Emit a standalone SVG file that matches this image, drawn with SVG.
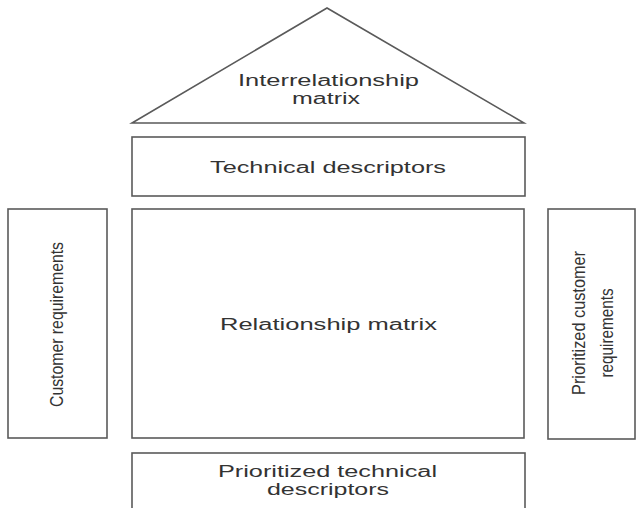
<svg xmlns="http://www.w3.org/2000/svg" width="637" height="508" viewBox="0 0 637 508">
  <style>
    .box { fill: #ffffff; stroke: #5a5a5a; stroke-width: 1.6; }
    .lbl { font-family: "Liberation Sans", Arial, sans-serif; font-size: 16px; fill: #333333; text-anchor: middle; }
    .vlbl { font-family: "Liberation Sans", Arial, sans-serif; font-size: 16px; fill: #333333; text-anchor: middle; }
  </style>
  <rect width="637" height="508" fill="#ffffff"/>

  <!-- roof: correlation between technical descriptors -->
  <g id="interrelationship-matrix">
    <polygon class="box" points="327,8 132,123 524,123"/>
    <text class="lbl" x="328.5" y="86" textLength="181" lengthAdjust="spacingAndGlyphs">Interrelationship</text>
    <text class="lbl" x="326" y="104" textLength="68" lengthAdjust="spacingAndGlyphs">matrix</text>
  </g>

  <g id="technical-descriptors">
    <rect class="box" x="132" y="137" width="393" height="59"/>
    <text class="lbl" x="328" y="173" textLength="236" lengthAdjust="spacingAndGlyphs">Technical descriptors</text>
  </g>

  <g id="customer-requirements">
    <rect class="box" x="8" y="209" width="99" height="229"/>
    <text class="vlbl" transform="translate(63,324.5) scale(1.2,1) rotate(-90)" textLength="165" lengthAdjust="spacingAndGlyphs">Customer requirements</text>
  </g>

  <g id="relationship-matrix">
    <rect class="box" x="132" y="209" width="392" height="229"/>
    <text class="lbl" x="328.5" y="330" textLength="217" lengthAdjust="spacingAndGlyphs">Relationship matrix</text>
  </g>

  <g id="prioritized-customer-requirements">
    <rect class="box" x="548" y="209" width="87" height="230"/>
    <text class="vlbl" transform="translate(585,323) scale(1.2,1) rotate(-90)" textLength="144" lengthAdjust="spacingAndGlyphs">Prioritized customer</text>
    <text class="vlbl" transform="translate(613,333) scale(1.2,1) rotate(-90)" textLength="89" lengthAdjust="spacingAndGlyphs">requirements</text>
  </g>

  <g id="prioritized-technical-descriptors">
    <rect class="box" x="132" y="453" width="393" height="62"/>
    <text class="lbl" x="327.5" y="477" textLength="219" lengthAdjust="spacingAndGlyphs">Prioritized technical</text>
    <text class="lbl" x="328" y="495" textLength="122" lengthAdjust="spacingAndGlyphs">descriptors</text>
  </g>

  <g id="connectors"/>
</svg>
